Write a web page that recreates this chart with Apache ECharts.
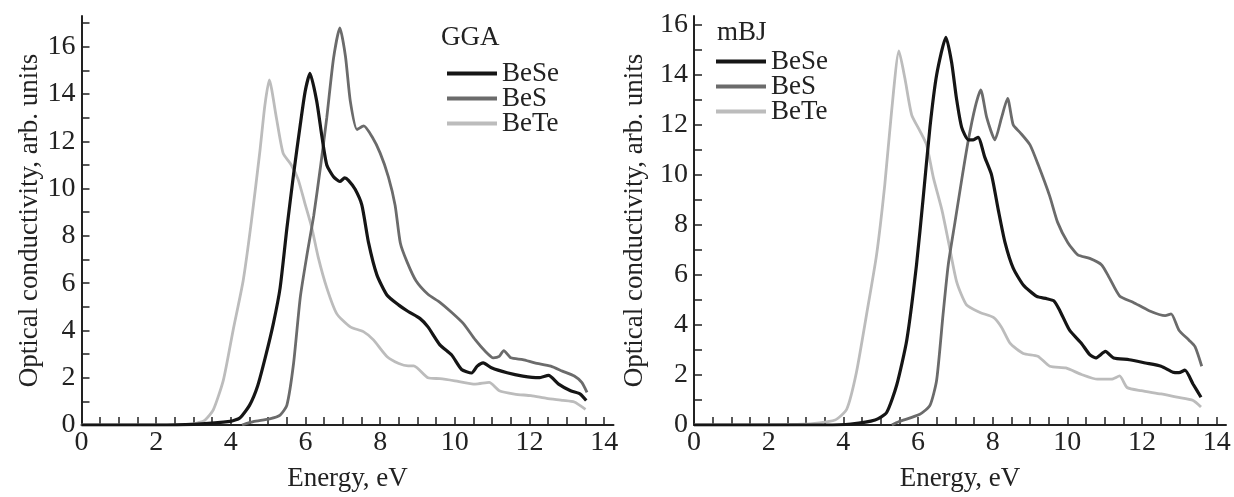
<!DOCTYPE html>
<html>
<head>
<meta charset="utf-8">
<script src="https://cdn.jsdelivr.net/npm/echarts@6/dist/echarts.min.js"></script>
<style>
  html, body { margin: 0; padding: 0; background: #fff; }
  #main { width: 1234px; height: 497px; }
</style>
</head>
<body>
<div id="main"></div>
<script>
// energy (eV) / conductivity pairs
// GGA panel
var ggaBeSe = [[0,0],[2,0],[3,0.03],[3.98,0.15],[4.24,0.3],[4.5,0.83],[4.72,1.66],[4.93,2.9],[5.14,4.3],[5.32,5.8],[5.5,8.3],[5.68,10.6],[5.86,12.7],[5.99,14.1],[6.12,14.87],[6.3,13.7],[6.44,12.2],[6.57,11.0],[6.75,10.5],[6.92,10.3],[7.05,10.45],[7.15,10.35],[7.33,9.97],[7.51,9.3],[7.69,7.7],[7.91,6.36],[8.18,5.5],[8.5,5.07],[8.75,4.8],[9.07,4.5],[9.28,4.15],[9.6,3.39],[9.91,2.97],[10.18,2.35],[10.45,2.2],[10.6,2.49],[10.76,2.63],[10.98,2.42],[11.4,2.21],[11.82,2.07],[12.25,2.0],[12.51,2.1],[12.78,1.73],[13.1,1.45],[13.36,1.31],[13.52,1.04]];
var ggaBeS = [[4.3,0],[4.6,0.14],[5.04,0.26],[5.32,0.42],[5.5,0.83],[5.68,2.6],[5.86,5.4],[6.04,7.2],[6.22,8.85],[6.4,10.9],[6.57,13.0],[6.75,15.5],[6.92,16.8],[7.07,15.6],[7.2,13.7],[7.38,12.5],[7.56,12.65],[7.78,12.2],[8.0,11.5],[8.22,10.5],[8.4,9.3],[8.54,7.7],[8.72,6.9],[8.96,6.1],[9.28,5.53],[9.6,5.19],[9.91,4.77],[10.23,4.29],[10.55,3.6],[10.82,3.11],[11.03,2.84],[11.19,2.9],[11.31,3.15],[11.5,2.84],[11.82,2.77],[12.14,2.63],[12.57,2.49],[12.88,2.28],[13.2,2.07],[13.4,1.8],[13.54,1.38]];
var ggaBeTe = [[0,0],[2,0],[3,0.05],[3.3,0.2],[3.53,0.64],[3.8,1.9],[4.06,4.0],[4.33,6.1],[4.55,8.6],[4.78,11.6],[4.91,13.5],[5.03,14.6],[5.22,13.0],[5.4,11.5],[5.62,11.0],[5.8,10.4],[5.98,9.4],[6.16,8.4],[6.34,7.1],[6.57,5.8],[6.84,4.7],[7.2,4.15],[7.55,3.95],[7.82,3.6],[8.18,2.9],[8.5,2.6],[8.75,2.5],[8.9,2.5],[9.28,2.0],[9.6,1.96],[10.0,1.87],[10.55,1.73],[10.92,1.8],[11.19,1.45],[11.6,1.31],[12.04,1.24],[12.46,1.13],[12.9,1.04],[13.2,0.97],[13.5,0.66]];
// mBJ panel
var mbjBeSe = [[0,0],[3.5,0],[4.2,0.04],[4.85,0.2],[5.16,0.5],[5.43,1.6],[5.7,3.4],[5.96,6.4],[6.14,9.1],[6.32,11.9],[6.5,14.0],[6.75,15.5],[6.9,14.5],[7.03,13.06],[7.17,11.9],[7.35,11.4],[7.48,11.4],[7.61,11.5],[7.79,10.7],[7.97,10.0],[8.15,8.6],[8.33,7.3],[8.55,6.27],[8.82,5.6],[9.18,5.14],[9.45,5.05],[9.64,4.96],[9.8,4.57],[10.06,3.79],[10.38,3.26],[10.6,2.81],[10.76,2.68],[11.02,2.94],[11.24,2.68],[11.66,2.61],[12.09,2.48],[12.51,2.35],[12.83,2.11],[12.99,2.09],[13.15,2.19],[13.37,1.63],[13.58,1.11]];
var mbjBeS = [[5.3,0],[5.48,0.13],[6.05,0.43],[6.32,0.78],[6.5,1.8],[6.67,4.4],[6.81,6.4],[6.99,8.1],[7.17,9.8],[7.35,11.4],[7.53,12.7],[7.68,13.4],[7.84,12.3],[8.06,11.4],[8.24,12.3],[8.4,13.06],[8.55,12.0],[8.73,11.7],[9.0,11.2],[9.22,10.4],[9.53,9.14],[9.74,8.1],[10.01,7.3],[10.28,6.8],[10.6,6.66],[10.92,6.4],[11.13,5.87],[11.4,5.16],[11.77,4.9],[12.19,4.57],[12.62,4.37],[12.78,4.44],[12.99,3.79],[13.26,3.39],[13.42,3.13],[13.6,2.35]];
var mbjBeTe = [[0,0],[2.93,0.03],[3.78,0.2],[4.09,0.63],[4.35,2.1],[4.62,4.4],[4.89,6.8],[5.11,9.6],[5.29,12.5],[5.49,14.95],[5.65,13.85],[5.83,12.4],[6.05,11.76],[6.23,11.2],[6.41,9.9],[6.64,8.6],[6.82,7.3],[7.04,5.7],[7.3,4.8],[7.66,4.5],[8.02,4.3],[8.24,3.9],[8.47,3.26],[8.82,2.86],[9.21,2.75],[9.53,2.35],[9.96,2.28],[10.38,2.02],[10.81,1.83],[11.18,1.83],[11.4,1.96],[11.6,1.5],[11.98,1.37],[12.51,1.24],[12.94,1.11],[13.37,0.98],[13.58,0.72]];

var xLabels = [0,2,4,6,8,10,12,14];
var xTicks = [0,0.5,1,1.5,2,2.5,3,3.5,4,4.5,5,5.5,6,6.5,7,7.5,8,8.5,9,9.5,10,10.5,11,11.5,12,12.5,13,13.5,14];
var yLabels = [0,2,4,6,8,10,12,14,16];
var yTicksGGA = [0,1,2,3,4,5,6,7,8,9,10,11,12,13,14,15,16,17];
var yTicksMBJ = [0,1,2,3,4,5,6,7,8,9,10,11,12,13,14,15,16];
var names = ['BeSe','BeS','BeTe'];
var colors = ['#151515','#6b6b6b','#bcbcbc'];
var widths = [3.2,2.8,2.8];

var font = 'Liberation Serif';
var ink = '#222';

function xAxisOpt(idx){
    return {
        gridIndex: idx, type: 'value', min: 0, max: 14.25,
        name: 'Energy, eV', nameLocation: 'middle', nameGap: 40,
        nameTextStyle: {fontFamily: font, fontSize: 27, color: ink},
        axisLine: {lineStyle: {color: ink, width: 2}},
        axisTick: {inside: true, length: 8, lineStyle: {color: ink, width: 1.5}, customValues: xTicks},
        axisLabel: {fontFamily: font, fontSize: 28, color: ink, margin: 4, customValues: xLabels},
        splitLine: {show: false}
    };
}
function yAxisOpt(idx, max, ticks, gap){
    return {
        gridIndex: idx, type: 'value', min: 0, max: max,
        name: 'Optical conductivity, arb. units', nameLocation: 'middle', nameGap: gap,
        nameTextStyle: {fontFamily: font, fontSize: 27, color: ink},
        axisLine: {show: true, lineStyle: {color: ink, width: 2}},
        axisTick: {inside: true, length: 8, lineStyle: {color: ink, width: 1.5}, customValues: ticks},
        axisLabel: {fontFamily: font, fontSize: 28, color: ink, margin: 6, customValues: yLabels},
        splitLine: {show: false}
    };
}
function lineSeries(name, data, i, axis){
    return {
        name: name, type: 'line', data: data, xAxisIndex: axis, yAxisIndex: axis,
        symbol: 'none', smooth: 0.2, animation: false,
        lineStyle: {color: colors[i], width: widths[i]},
        itemStyle: {color: colors[i]}
    };
}
function legendOpt(left, top){
    return {
        orient: 'vertical', left: left, top: top, data: names,
        itemWidth: 50, itemHeight: 12, itemGap: -2,
        itemStyle: {opacity: 0, borderWidth: 0},
        lineStyle: {width: 4},
        textStyle: {fontFamily: font, fontSize: 27, color: ink, lineHeight: 23},
        selectedMode: false
    };
}

var chart = echarts.init(document.getElementById('main'));
chart.setOption({
    backgroundColor: '#fff',
    animation: false,
    title: [
        {text: 'GGA', left: 436, top: 19, textStyle: {fontFamily: font, fontSize: 27, fontWeight: 'normal', color: ink}},
        {text: 'mBJ', left: 712, top: 14, textStyle: {fontFamily: font, fontSize: 27, fontWeight: 'normal', color: ink}}
    ],
    legend: [legendOpt(440, 55), legendOpt(709, 43)],
    grid: [
        {left: 81.5, right: 620.5, top: 16, bottom: 64},
        {left: 694, right: 8, top: 16, bottom: 64}
    ],
    xAxis: [xAxisOpt(0), xAxisOpt(1)],
    yAxis: [yAxisOpt(0, 17.3, yTicksGGA, 38), yAxisOpt(1, 16.35, yTicksMBJ, 46)],
    series: [
        lineSeries('BeTe', ggaBeTe, 2, 0),
        lineSeries('BeS', ggaBeS, 1, 0),
        lineSeries('BeSe', ggaBeSe, 0, 0),
        lineSeries('BeTe', mbjBeTe, 2, 1),
        lineSeries('BeS', mbjBeS, 1, 1),
        lineSeries('BeSe', mbjBeSe, 0, 1)
    ]
});
</script>
</body>
</html>
